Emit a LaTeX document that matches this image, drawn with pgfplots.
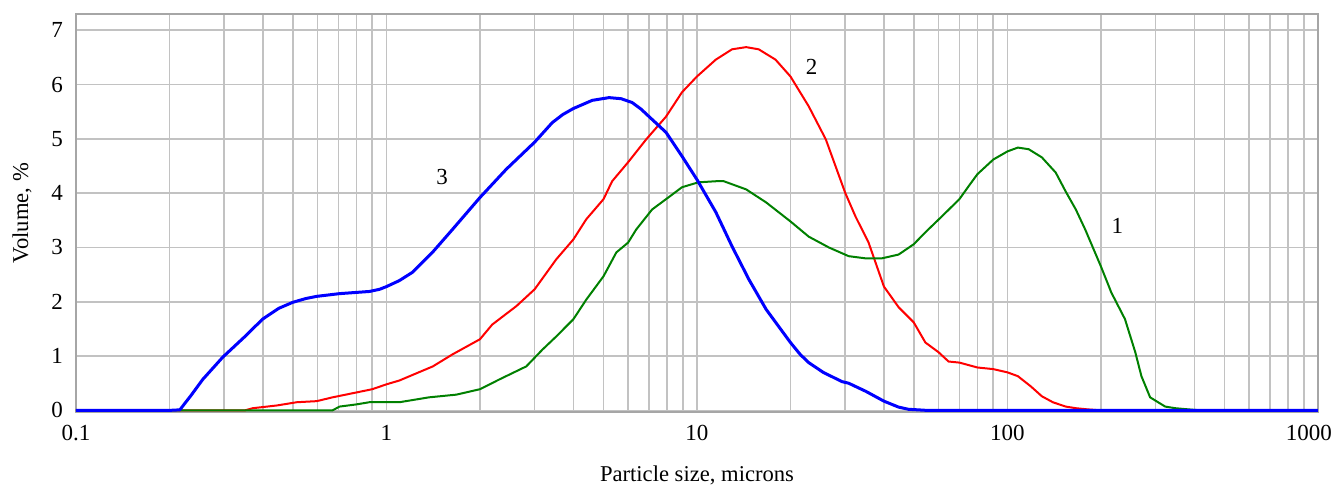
\documentclass[border=0pt]{standalone}
\usepackage{fontspec}
\setmainfont{Liberation Serif}
\usepackage{pgfplots}
\pgfplotsset{compat=1.18}
\begin{document}
\begin{tikzpicture}
\begin{axis}[
  at={(0,0)}, anchor=south west,
  scale only axis, width=621pt, height=199pt,
  xmode=log, log basis x=10,
  xmin=0.1, xmax=1000, ymin=-0.03, ymax=7.3,
  xtick={0.1,1,10,100,1000}, xticklabels={0.1,1,10,100,{\kern-9pt1000}},
  minor xtick={0.2,0.3,0.4,0.5,0.6,0.7,0.8,0.9,2,3,4,5,6,7,8,9,20,30,40,50,60,70,80,90,200,300,400,500,600,700,800,900},
  ytick={0,1,2,3,4,5,6,7},
  /pgf/number format/assume math mode=true,
  major tick length=0pt, minor tick length=0pt,
  grid=both,
  major grid style={draw=black!24, line width=0.8pt},
  minor grid style={draw=black!24, line width=0.8pt},
  axis line style={draw=black!35, line width=0.8pt},
  tick label style={font=\fontsize{11.5}{13}\selectfont},
  xticklabel style={yshift=-3pt},
  yticklabel style={xshift=-3pt},
  xlabel={Particle size, microns},
  ylabel={Volume, \%},
  label style={font=\fontsize{11.3}{13}\selectfont},
  xlabel style={yshift=-5.5pt},
  ylabel style={yshift=3pt},
  clip=false,
]
% curve 2 (red)
\addplot[red, line width=1pt] coordinates {
(0.1,0) (0.35,0) (0.371,0.04) (0.443,0.09) (0.514,0.15) (0.596,0.17) (0.67,0.24)
(0.80,0.33) (0.90,0.39) (1.0,0.48) (1.1,0.55) (1.41,0.81) (1.63,1.03) (2.0,1.31)
(2.19,1.58) (2.62,1.92) (3.0,2.23) (3.52,2.78) (4.0,3.15) (4.40,3.52) (5.0,3.89)
(5.33,4.22) (6.0,4.57) (6.86,4.99) (7.95,5.41) (8.95,5.86) (10,6.15) (11.5,6.46)
(12.97,6.65) (14.4,6.69) (15.8,6.65) (17.9,6.46) (20,6.15) (22.9,5.60) (26.0,4.99)
(30,4.01) (32.4,3.57) (35.7,3.09) (40,2.28) (44.6,1.90) (49.9,1.62) (54.4,1.25)
(60,1.07) (64.6,0.90) (70,0.88) (80,0.79) (90,0.76) (100,0.70) (108,0.63)
(119,0.44) (129,0.26) (140,0.15) (154,0.07) (166,0.04) (180,0.02) (200,0) (1000,0)
};
% curve 1 (green)
\addplot[black!50!green, line width=1pt] coordinates {
(0.1,0) (0.67,0) (0.706,0.07) (0.80,0.11) (0.88,0.15) (1.1,0.15) (1.37,0.24)
(1.68,0.29) (2.0,0.39) (2.31,0.57) (2.82,0.81) (3.18,1.12) (3.52,1.36) (4.0,1.68)
(4.40,2.04) (5.0,2.47) (5.50,2.91) (6.0,3.09) (6.37,3.33) (7.17,3.70) (7.95,3.89)
(8.95,4.11) (10.1,4.20) (11.5,4.22) (12.2,4.22) (14.4,4.07) (16.7,3.83) (20,3.48)
(22.9,3.20) (26.6,3.00) (30.8,2.84) (34.9,2.80) (39.4,2.80) (44.6,2.87) (49.9,3.06)
(54.4,3.28) (61.4,3.57) (70,3.89) (75,4.13) (80,4.35) (90,4.62) (100,4.77)
(108,4.84) (117,4.81) (129,4.66) (143,4.38) (154,4.03) (166,3.70) (178,3.33)
(200,2.65) (216,2.17) (239,1.68) (258,1.07) (270,0.63) (288,0.24) (322,0.07)
(347,0.04) (380,0.02) (420,0) (900,0)
};
% curve 3 (blue)
\addplot[blue, line width=1.5pt, line join=round] coordinates {
(0.1,0) (0.2,0) (0.216,0.01) (0.235,0.28) (0.256,0.57) (0.297,0.98) (0.35,1.36)
(0.399,1.68) (0.45,1.88) (0.499,1.99) (0.55,2.06)
(0.596,2.10) (0.706,2.15) (0.881,2.19) (0.95,2.23) (1.0,2.28) (1.1,2.39) (1.21,2.54) (1.406,2.91)
(1.63,3.33) (2.0,3.92) (2.43,4.44) (3.0,4.94) (3.42,5.30) (3.7,5.45) (4.0,5.56) (4.60,5.71)
(5.21,5.76) (5.7,5.74) (6.18,5.67) (6.6,5.55) (7.01,5.41) (7.95,5.12) (8.95,4.68) (10,4.25) (11.5,3.65)
(12.97,3.02) (14.7,2.41) (16.7,1.86) (20,1.25) (21.5,1.03) (22.9,0.88) (25.5,0.70) (29.3,0.53) (30.8,0.50)
(35,0.35) (40,0.17) (44.6,0.06) (48,0.02) (55,0) (1000,0)
};
\node[font=\fontsize{11.5}{13}\selectfont] at (axis cs:1.51,4.3) {3};
\node[font=\fontsize{11.5}{13}\selectfont] at (axis cs:23.4,6.33) {2};
\node[font=\fontsize{11.5}{13}\selectfont] at (axis cs:226,3.4) {1};
\end{axis}
\pgfresetboundingbox
\path[use as bounding box] (-38pt,-36pt) rectangle (629pt,206pt);
\end{tikzpicture}
\end{document}
